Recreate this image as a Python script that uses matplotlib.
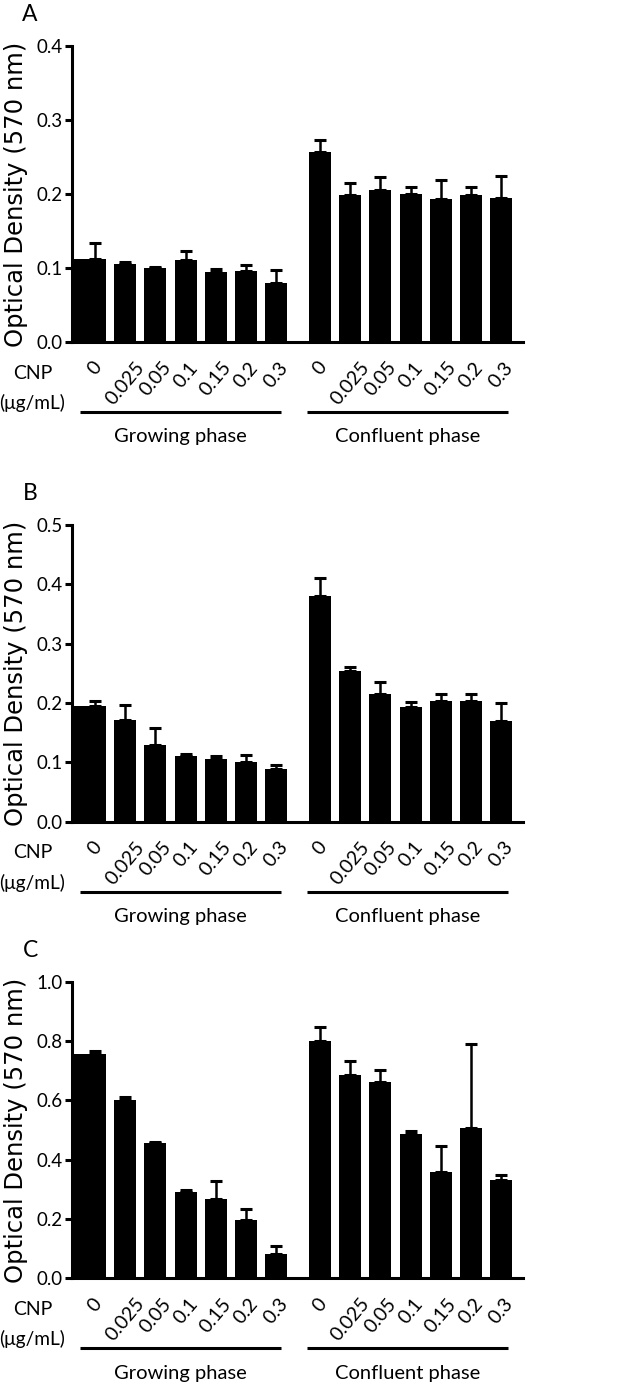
import matplotlib
matplotlib.use('Agg')
import matplotlib.pyplot as plt
import matplotlib.transforms as mtransforms
import numpy as np

plt.rcParams['font.family'] = ['Lato', 'DejaVu Sans']

# CNP concentrations (ug/mL), same for both phases
doses = ['0', '0.025', '0.05', '0.1', '0.15', '0.2', '0.3']

# panel A
a_grow = [0.112, 0.106, 0.100, 0.111, 0.095, 0.096, 0.080]
a_grow_err = [0.022, 0.002, 0.001, 0.012, 0.004, 0.008, 0.017]
a_conf = [0.257, 0.199, 0.205, 0.200, 0.193, 0.199, 0.194]
a_conf_err = [0.016, 0.016, 0.018, 0.010, 0.026, 0.011, 0.030]

# panel B
b_grow = [0.195, 0.171, 0.129, 0.110, 0.106, 0.101, 0.089]
b_grow_err = [0.008, 0.026, 0.029, 0.004, 0.004, 0.012, 0.006]
b_conf = [0.380, 0.254, 0.216, 0.193, 0.203, 0.204, 0.169]
b_conf_err = [0.031, 0.007, 0.019, 0.009, 0.012, 0.012, 0.031]

# panel C
c_grow = [0.756, 0.600, 0.455, 0.291, 0.266, 0.197, 0.081]
c_grow_err = [0.011, 0.010, 0.004, 0.007, 0.062, 0.038, 0.028]
c_conf = [0.800, 0.685, 0.663, 0.488, 0.359, 0.508, 0.332]
c_conf_err = [0.046, 0.048, 0.038, 0.009, 0.088, 0.281, 0.017]

W, H = 633, 1386
fig = plt.figure(figsize=(W / 100, H / 100), dpi=100)

x_grow = np.arange(7)
x_conf = np.arange(7) + 7.45
xlim = (-0.76, 14.17)
bw = 0.73


def panel(rect, letter, grow, grow_err, conf, conf_err, ymax, ystep):
    ax = fig.add_axes(rect)
    vals = grow + conf
    errs = grow_err + conf_err
    xs = np.concatenate([x_grow, x_conf])

    lefts = xs - bw / 2
    widths = np.full(len(xs), bw)
    # first bar runs from the axis
    widths[0] = xs[0] + bw / 2 - xlim[0]
    lefts[0] = xlim[0]
    ax.bar(lefts, vals, width=widths, align='edge', color='black', zorder=2)
    ax.errorbar(xs, vals, yerr=[np.zeros(len(vals)), errs], fmt='none',
                ecolor='black', elinewidth=1.8, capsize=4.5, capthick=2.2,
                zorder=1)

    ax.set_xlim(*xlim)
    ax.set_ylim(0, ymax)
    ticks = np.arange(0, ymax + 1e-9, ystep)
    ax.set_yticks(ticks)
    ax.set_yticklabels(['%.1f' % v for v in ticks])
    for s in ['top', 'right']:
        ax.spines[s].set_visible(False)
    for s in ['left', 'bottom']:
        ax.spines[s].set_linewidth(2.2)
    ax.tick_params(axis='y', direction='out', length=5, width=2.2,
                   labelsize=13.5, pad=2)
    ax.set_xticks(xs)
    ax.set_xticklabels(doses + doses, rotation=50, ha='center', va='top',
                       fontsize=14)
    ax.tick_params(axis='x', length=0, pad=12)

    ax.set_ylabel('Optical Density (570 nm)', fontsize=17.5,
                  family='DejaVu Sans')
    ax.yaxis.set_label_coords(-0.097, 0.5)

    trans = mtransforms.blended_transform_factory(ax.transData, ax.transAxes)
    ax.text(-0.086, -0.105, 'CNP', transform=ax.transAxes, ha='center',
            va='center', fontsize=14)
    ax.text(-0.088, -0.205, '(\u03bcg/mL)', transform=ax.transAxes,
            ha='center', va='center', fontsize=13.8)
    for x0, x1, name in [(-0.5, 6.16, 'Growing phase'),
                         (7.02, 13.68, 'Confluent phase')]:
        ax.plot([x0, x1], [-0.236, -0.236], color='black', lw=2.2,
                transform=trans, clip_on=False, solid_capstyle='butt')
        ax.text((x0 + x1) / 2, -0.32, name, transform=trans, ha='center',
                va='center', fontsize=14.5)

    ax.text(-0.093, 1.105, letter, transform=ax.transAxes, ha='center',
            va='center', fontsize=16.5)
    return ax


left = 72 / W
width = (523 - 72) / W
panel([left, 1 - 342 / H, width, 296 / H], 'A',
      a_grow, a_grow_err, a_conf, a_conf_err, 0.4, 0.1)
panel([left, 1 - 821.7 / H, width, 296.7 / H], 'B',
      b_grow, b_grow_err, b_conf, b_conf_err, 0.5, 0.1)
panel([left, 1 - 1278.3 / H, width, 296.6 / H], 'C',
      c_grow, c_grow_err, c_conf, c_conf_err, 1.0, 0.2)

fig.savefig('out.png', dpi=100)
